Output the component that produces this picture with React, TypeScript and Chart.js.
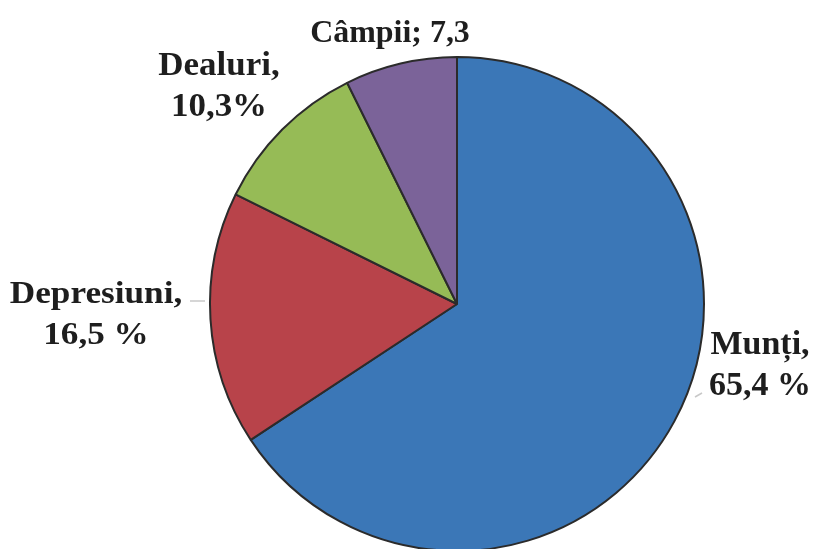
import React, { useEffect, useRef } from "react";
import { Chart, registerables } from "chart.js";

Chart.register(...registerables);

const categories = ["Munți", "Depresiuni", "Dealuri", "Câmpii"];
const values = [65.4, 16.5, 10.3, 7.3];
const labelLines = [
  ["Munți,", "65,4 %"],
  ["Depresiuni,", "16,5 %"],
  ["Dealuri,", "10,3%"],
  ["Câmpii; 7,3"],
];
const colors = ["#3b77b7", "#b8434a", "#96bb56", "#7b6399"];

// label layout: center x, first baseline y (pixels), font size, horizontal stretch
const labelLayout = [
  { x: 760, y: 354, size: 33, sx: 1.03 },
  { x: 96, y: 303, size: 32, sx: 1.1 },
  { x: 219, y: 75, size: 33, sx: 1.06 },
  { x: 390, y: 42, size: 31, sx: 1.03 },
];
const leaderLines = [
  [[695, 397], [702, 393]],
  [[190, 301], [205, 301]],
];

const labelPlugin = {
  id: "outerLabels",
  afterDraw(chart: any) {
    const ctx = chart.ctx;
    ctx.save();
    ctx.strokeStyle = "#c8c8c8";
    ctx.lineWidth = 1.5;
    leaderLines.forEach((l) => {
      ctx.beginPath();
      ctx.moveTo(l[0][0], l[0][1]);
      ctx.lineTo(l[1][0], l[1][1]);
      ctx.stroke();
    });
    ctx.fillStyle = "#1e1e1e";
    ctx.textAlign = "center";
    ctx.textBaseline = "alphabetic";
    labelLines.forEach((lines, i) => {
      const lay = labelLayout[i];
      ctx.font = `bold ${lay.size}px "Liberation Serif", "Times New Roman", serif`;
      lines.forEach((t, j) => {
        ctx.save();
        ctx.translate(lay.x, lay.y + j * 41);
        ctx.scale(lay.sx, 1);
        ctx.fillText(t, 0, 0);
        ctx.restore();
      });
    });
    ctx.restore();
  },
};

export default function App() {
  const ref = useRef<HTMLCanvasElement>(null);
  useEffect(() => {
    const chart = new Chart(ref.current!, {
      type: "pie",
      data: {
        labels: categories,
        datasets: [
          {
            data: values,
            backgroundColor: colors,
            borderColor: "#2b2b2b",
            borderWidth: 2,
          },
        ],
      },
      options: {
        responsive: false,
        animation: false,
        layout: { padding: { left: 209, right: 113, top: 56, bottom: 8 } },
        plugins: {
          legend: { display: false },
          tooltip: { enabled: false },
        },
      },
      plugins: [labelPlugin],
    });
    return () => chart.destroy();
  }, []);
  return (
    <div style={{ position: "fixed", left: 0, top: 0, width: 818, height: 549, overflow: "hidden", background: "#fff" }}>
      <canvas ref={ref} width={818} height={560} style={{ display: "block" }} />
    </div>
  );
}
